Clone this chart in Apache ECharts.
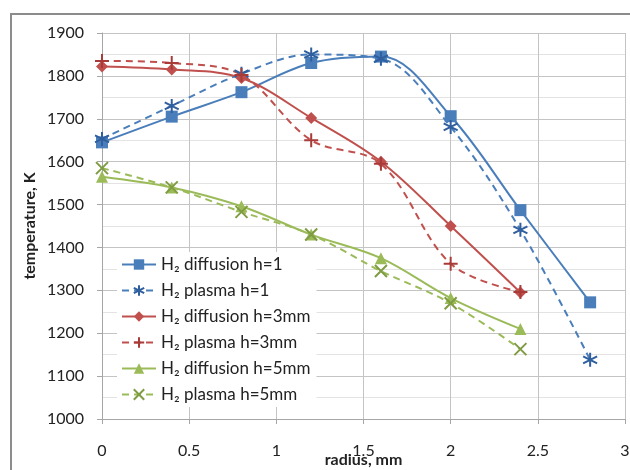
<!DOCTYPE html>
<html><head><meta charset="utf-8">
<script src="https://cdn.jsdelivr.net/npm/echarts@6/dist/echarts.min.js"></script>
<style>html,body{margin:0;padding:0;background:#fff}#c{width:630px;height:470px}</style>
</head><body><div id="c"></div>
<script>
const radius = [0, 0.4, 0.8, 1.2, 1.6, 2.0, 2.4, 2.8];
const diff1 = [1645, 1705, 1762, 1830, 1845, 1706, 1487, 1272];
const plasma1 = [1653, 1730, 1805, 1850, 1840, 1681, 1441, 1138];
const diff3 = [1822, 1815, 1795, 1702, 1600, 1450, 1295];
const plasma3 = [1835, 1830, 1802, 1650, 1595, 1362, 1296];
const diff5 = [1565, 1540, 1496, 1430, 1375, 1282, 1210];
const plasma5 = [1585, 1540, 1483, 1430, 1345, 1270, 1163];
const names = ['H\u2082 diffusion h=1','H\u2082 plasma h=1','H\u2082 diffusion h=3mm','H\u2082 plasma h=3mm','H\u2082 diffusion h=5mm','H\u2082 plasma h=5mm'];
const yTicks = {min:1000, max:1900, interval:100};
const xTicks = {min:0, max:3, interval:0.5};

const pair = v => v.map((y,i)=>[radius[i], y]);
const STAR = 'path://M0,-10L0,10M-8.66,-5L8.66,5M-8.66,5L8.66,-5';
const PLUS = 'path://M0,-10L0,10M-10,0L10,0';
const CROSS = 'path://M-10,-10L10,10M-10,10L10,-10';
const FONT = 'Lato';

function mk(name, data, color, mcolor, symbol, size, dashed, stroke){
  return {
    name, type:'line', data: pair(data), smooth: 0.35,
    symbol, symbolSize: size, color,
    lineStyle:{color, width:2, type: dashed ? [7,5] : 'solid'},
    itemStyle: stroke ? {color: mcolor, borderColor: mcolor, borderWidth: 2} : {color: mcolor, borderWidth:0},
    z: 3
  };
}
const chart = echarts.init(document.getElementById('c'));
chart.setOption({
  animation:false,
  backgroundColor:'#fff',
  textStyle:{fontFamily:FONT},
  graphic:[{type:'rect', shape:{x:11,y:14,width:640,height:480}, style:{fill:'none', stroke:'#8c8c8c', lineWidth:2}, z:-1}],
  grid:{left:102, right:5, top:33, bottom:51, outerBoundsMode:'none', containLabel:false},
  xAxis:{type:'value', min:xTicks.min, max:xTicks.max, interval:xTicks.interval,
    name:'radius, mm', nameLocation:'middle', nameGap:41, nameMoveOverlap:false,
    nameTextStyle:{fontFamily:FONT, fontSize:16, fontWeight:'bold', color:'#222', verticalAlign:'middle'},
    axisLine:{show:true, onZero:false, lineStyle:{color:'#a6a6a6', width:1}},
    axisTick:{show:true, length:5, lineStyle:{color:'#a6a6a6'}},
    axisLabel:{fontFamily:FONT, fontSize:16, color:'#222', margin:24},
    splitLine:{show:true, lineStyle:{color:'#c4c4c4', width:1}}},
  yAxis:{type:'value', min:yTicks.min, max:yTicks.max, interval:yTicks.interval,
    name:'temperature, K', nameLocation:'middle', nameGap:64, nameRotate:90, nameMoveOverlap:false,
    nameTextStyle:{fontFamily:FONT, fontSize:16, fontWeight:'bold', color:'#222'},
    axisLine:{show:true, lineStyle:{color:'#a6a6a6', width:1}},
    axisTick:{show:true, length:5, lineStyle:{color:'#a6a6a6'}},
    axisLabel:{fontFamily:FONT, fontSize:16, color:'#222', margin:18, formatter: v => String(v)},
    splitLine:{show:true, lineStyle:{color:'#c4c4c4', width:1}},
    minorTick:{show:false, splitNumber:2},
    minorSplitLine:{show:true, lineStyle:{color:'#e3e3e3', width:1}}},
  legend:{orient:'vertical', left:117, top:252, itemWidth:34, itemHeight:13, itemGap:9,
    backgroundColor:'#fff', padding:[4,6,4,4],
    textStyle:{fontFamily:FONT, fontSize:17, color:'#222'}, data:names},
  series:[
    mk(names[0], diff1, '#4a7ebb', '#4a7ebb', 'rect', 12, false, false),
    mk(names[1], plasma1, '#4a7ebb', '#2f5f9e', STAR, 14, true, true),
    mk(names[2], diff3, '#c0504d', '#c0504d', 'diamond', 12, false, false),
    mk(names[3], plasma3, '#c0504d', '#a83b38', PLUS, 14, true, true),
    mk(names[4], diff5, '#9bbb59', '#9bbb59', 'triangle', 12, false, false),
    mk(names[5], plasma5, '#9bbb59', '#7f9c42', CROSS, 12, true, true)
  ]
});
</script></body></html>
